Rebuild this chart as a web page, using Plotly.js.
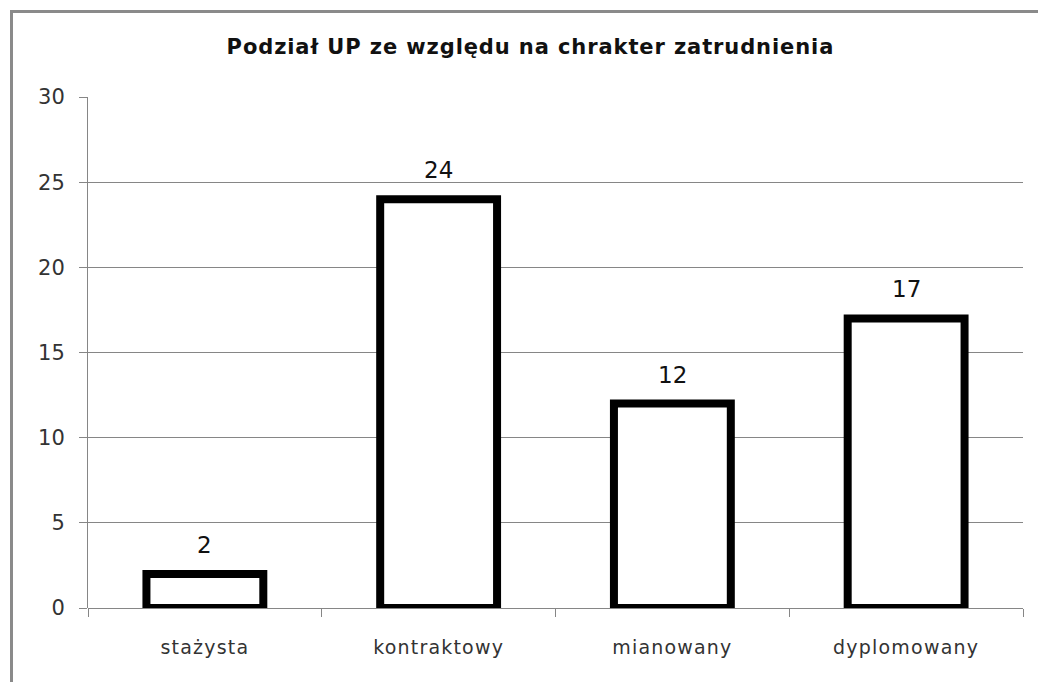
<!DOCTYPE html>
<html><head><meta charset="utf-8">
<script src="https://cdn.plot.ly/plotly-3.0.1.min.js"></script>
<style>
body{margin:0;background:#fff;overflow:hidden}
#frame{position:absolute;left:10px;top:10px;width:1100px;height:760px;border-left:3px solid #8a8a8a;border-top:3px solid #8a8a8a;pointer-events:none;z-index:5}
#chart{position:absolute;left:0;top:0;width:1038px;height:682px}
.xtick text{letter-spacing:1.2px}
.gtitle{letter-spacing:0.9px}
</style></head>
<body>
<div id="chart"></div>
<div id="frame"></div>
<script>
const categories = ["stażysta", "kontraktowy", "mianowany", "dyplomowany"];
const values = [2, 24, 12, 17];
const tickValsY = [0, 5, 10, 15, 20, 25, 30];
const chartTitle = "Podział UP ze względu na chrakter zatrudnienia";

const fontFam = "'DejaVu Sans', sans-serif";
const labelAnns = categories.map((c, i) => ({
  x: c, y: values[i], xref: 'x', yref: 'y',
  text: String(values[i]), showarrow: false,
  yanchor: 'middle', yshift: 29,
  font: {family: fontFam, size: 23, color: '#111'}
}));
Plotly.newPlot('chart', [{
  type: 'bar',
  x: categories,
  y: values,
  width: 0.5,
  cliponaxis: false,
  marker: {color: '#ffffff', line: {color: '#000000', width: 8}},
  hoverinfo: 'skip'
}], {
  width: 1038, height: 682,
  paper_bgcolor: '#ffffff', plot_bgcolor: '#ffffff',
  margin: {l: 88, r: 15, t: 97, b: 74},
  title: {text: '<b>' + chartTitle + '</b>', font: {family: fontFam, size: 21, color: '#111'}, x: 0.511, xanchor: 'center', y: 0.932, yanchor: 'middle'},
  showlegend: false,
  annotations: labelAnns,
  xaxis: {
    type: 'category',
    tickson: 'boundaries', ticks: 'outside', ticklen: 8, tickcolor: '#868686', tickwidth: 1,
    showline: false, showgrid: false, zeroline: false,
    tickfont: {family: fontFam, size: 19, color: '#333'},
    ticklabelstandoff: 26,
    automargin: false
  },
  yaxis: {
    range: [0, 30], tickvals: tickValsY,
    ticks: 'outside', ticklen: 8, tickcolor: '#868686', tickwidth: 1,
    showline: true, linecolor: '#868686', linewidth: 1,
    showgrid: true, gridcolor: '#868686', gridwidth: 1,
    zeroline: true, zerolinecolor: '#868686', zerolinewidth: 1,
    tickfont: {family: fontFam, size: 21, color: '#333'},
    ticklabelstandoff: 10,
    automargin: false
  }
}, {staticPlot: true});
</script>
</body></html>
